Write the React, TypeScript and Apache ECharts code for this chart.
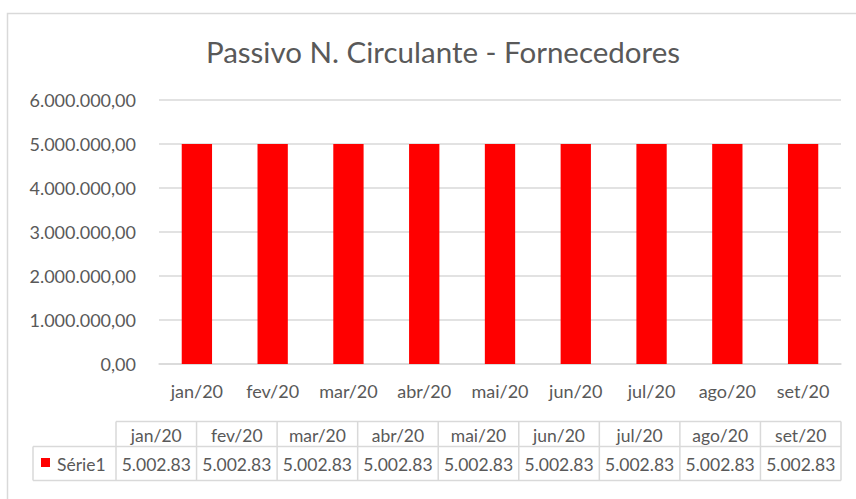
import React, { useEffect, useRef } from "react";
import * as echarts from "echarts";

const categories = ["jan/20", "fev/20", "mar/20", "abr/20", "mai/20", "jun/20", "jul/20", "ago/20", "set/20"];
const values = [5002830, 5002830, 5002830, 5002830, 5002830, 5002830, 5002830, 5002830, 5002830];
const tableLabels = ["5.002.83", "5.002.83", "5.002.83", "5.002.83", "5.002.83", "5.002.83", "5.002.83", "5.002.83", "5.002.83"];
const seriesName = "Série1";
const titleText = "Passivo N. Circulante - Fornecedores";

const FONT = "Lato, 'Open Sans', sans-serif";
const TXT = "#595959";
const LINE = "#d9d9d9";

function fmt(v: number): string {
  const s = v.toFixed(2);
  const [ip, dp] = s.split(".");
  return ip.replace(/\B(?=(\d{3})+(?!\d))/g, ".") + "," + dp;
}

export default function App() {
  const ref = useRef<HTMLDivElement>(null);
  useEffect(() => {
    document.body.style.margin = "0";
    if (!ref.current) return;
    const chart = echarts.init(ref.current, undefined, { renderer: "svg" });

    // data table layout
    const tLeft = 116, tRight = 841, legendLeft = 33;
    const yTop = 421.5, yMid = 446.5, yBot = 480.5;
    const n = categories.length;
    const colW = (tRight - tLeft) / n;
    const g: any[] = [];
    g.push({ type: "rect", shape: { x: 7.5, y: 13.5, width: 900, height: 600 }, style: { fill: "none", stroke: LINE, lineWidth: 1.5 }, silent: true });
    g.push({ type: "line", shape: { x1: tLeft, y1: yTop, x2: tRight, y2: yTop }, style: { stroke: LINE, lineWidth: 1.5 } });
    g.push({ type: "line", shape: { x1: legendLeft, y1: yMid, x2: tRight, y2: yMid }, style: { stroke: LINE, lineWidth: 1.5 } });
    g.push({ type: "line", shape: { x1: legendLeft, y1: yBot, x2: tRight, y2: yBot }, style: { stroke: LINE, lineWidth: 1.5 } });
    g.push({ type: "line", shape: { x1: legendLeft, y1: yMid, x2: legendLeft, y2: yBot }, style: { stroke: LINE, lineWidth: 1.5 } });
    for (let i = 0; i <= n; i++) {
      const x = tLeft + i * colW;
      g.push({ type: "line", shape: { x1: x, y1: yTop, x2: x, y2: yBot }, style: { stroke: LINE, lineWidth: 1.5 } });
    }
    categories.forEach((c, i) => {
      const cx = tLeft + (i + 0.5) * colW;
      g.push({ type: "text", x: cx, y: (yTop + yMid) / 2 + 1, style: { text: c, fill: TXT, font: `17.5px ${FONT}`, align: "center", verticalAlign: "middle" } });
      g.push({ type: "text", x: cx, y: (yMid + yBot) / 2 + 1, style: { text: tableLabels[i], fill: TXT, font: `17.5px ${FONT}`, align: "center", verticalAlign: "middle" } });
    });
    g.push({ type: "rect", shape: { x: 41, y: 458, width: 9, height: 9 }, style: { fill: "#ff0000" } });
    g.push({ type: "text", x: 57, y: (yMid + yBot) / 2 + 1, style: { text: seriesName, fill: TXT, font: `17.5px ${FONT}`, align: "left", verticalAlign: "middle" } });

    chart.setOption({
      animation: false,
      title: {
        text: titleText,
        left: 438,
        textAlign: "center",
        top: 31,
        textStyle: { color: TXT, fontFamily: FONT, fontSize: 29.5, fontWeight: "normal" },
      },
      grid: { left: 159, right: 15, top: 100, bottom: 135 },
      xAxis: {
        type: "category",
        data: categories,
        axisLine: { lineStyle: { color: LINE, width: 1.5 } },
        axisTick: { show: false },
        axisLabel: { color: TXT, fontFamily: FONT, fontSize: 18, margin: 18, interval: 0, hideOverlap: false },
      },
      yAxis: {
        type: "value",
        min: 0,
        max: 6000000,
        interval: 1000000,
        axisLine: { show: false },
        axisTick: { show: false },
        splitLine: { lineStyle: { color: LINE, width: 1.5 } },
        axisLabel: { color: TXT, fontFamily: FONT, fontSize: 18, margin: 23, formatter: (v: number) => fmt(v) },
      },
      series: [
        {
          name: seriesName,
          type: "bar",
          data: values,
          barWidth: "40%",
          itemStyle: { color: "#ff0000" },
        },
      ],
      graphic: g,
    });
    return () => chart.dispose();
  }, []);
  return <div ref={ref} style={{ width: 856, height: 499 }} />;
}
